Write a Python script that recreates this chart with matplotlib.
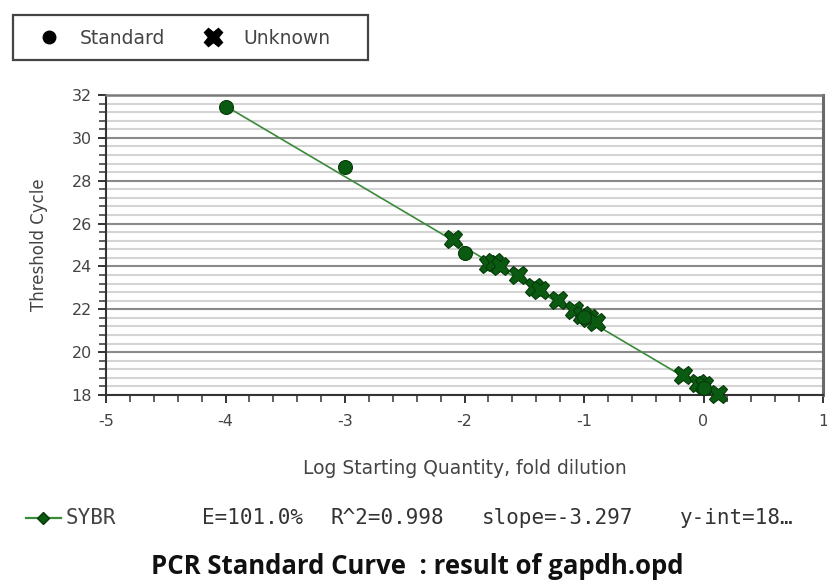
import matplotlib
matplotlib.use("Agg")
import matplotlib.pyplot as plt
from matplotlib.lines import Line2D
from matplotlib.patches import Rectangle
from matplotlib.ticker import MultipleLocator
import numpy as np

plt.rcParams["axes.unicode_minus"] = False

# ---- data ----
std_x = [-4.0, -3.0, -2.0, -1.0, 0.0]
std_y = [31.45, 28.65, 24.65, 21.65, 18.35]

unk_x = [-2.1, -1.8, -1.75, -1.7, -1.55, -1.42, -1.37, -1.22, -1.08, -1.02, -0.96, -0.9, -0.17, -0.05, 0.0, 0.12]
unk_y = [25.3, 24.1, 24.2, 24.0, 23.6, 23.05, 22.9, 22.45, 21.95, 21.75, 21.6, 21.4, 18.95, 18.55, 18.45, 18.05]

fit_slope = -3.297
fit_intercept = 18.3
fit_x = [-4.0, 0.13]

x_ticks = [-5, -4, -3, -2, -1, 0, 1]
y_ticks = [18, 20, 22, 24, 26, 28, 30, 32]

legend_labels = ["Standard", "Unknown"]
xlabel = "Log Starting Quantity, fold dilution"
ylabel = "Threshold Cycle"
series_name = "SYBR"
stats_words = ["E=101.0%", "R^2=0.998", "slope=-3.297", "y-int=18\u2026"]
title = "PCR Standard Curve  : result of gapdh.opd"

marker_face = "#0b5a12"
marker_edge = "#053a08"
line_col = "#3a8a3a"
txt_col = "#444444"

fig = plt.figure(figsize=(8.27, 5.84), dpi=100)
ax = fig.add_axes([106/827, 1-395/584, (823-106)/827, (395-95)/584])

ax.set_xlim(-5, 1)
ax.set_ylim(18, 32)
ax.set_xticks(x_ticks)
ax.set_yticks(y_ticks)
ax.xaxis.set_minor_locator(MultipleLocator(0.2))
ax.yaxis.set_minor_locator(MultipleLocator(0.4))

ax.grid(axis="y", which="major", color="#8a8a8a", lw=1.5, zorder=0)
ax.grid(axis="y", which="minor", color="#d4d4d4", lw=1.5, zorder=0)
ax.set_axisbelow(True)

for s in ["left", "bottom"]:
    ax.spines[s].set_color("#333333")
    ax.spines[s].set_linewidth(1.5)
ax.spines["top"].set_color("#7a7a7a")
ax.spines["top"].set_linewidth(1.8)
ax.spines["right"].set_color("#6a6a6a")
ax.spines["right"].set_linewidth(2.2)

ax.tick_params(which="major", direction="out", length=6, width=1.4, color="#333333",
               labelsize=11.5, labelcolor=txt_col)
ax.tick_params(axis="x", which="major", pad=8)
ax.tick_params(axis="y", which="major", pad=4)
ax.tick_params(which="minor", direction="out", length=5, width=1.2, color="#444444")

fx = np.array(fit_x)
ax.plot(fx, fit_slope * fx + fit_intercept, color=line_col, lw=1.2, zorder=2)

ax.plot(unk_x, unk_y, linestyle="none", marker="X", ms=13, mfc=marker_face,
        mec=marker_edge, mew=0.8, zorder=3, clip_on=False)
ax.plot(std_x, std_y, linestyle="none", marker="o", ms=10, mfc=marker_face,
        mec=marker_edge, mew=0.8, zorder=4)

ax.set_xlabel(xlabel, fontsize=13.5, color=txt_col, labelpad=21)
ax.set_ylabel(ylabel, fontsize=12, color=txt_col, labelpad=17)

# legend (frame drawn as a figure rectangle to match the original box)
fig.add_artist(Rectangle((13/827, 1-60/584), (368-13)/827, 45/584,
                         transform=fig.transFigure, fill=True, facecolor="white",
                         edgecolor="#444444", lw=1.6, zorder=1))
handles = [Line2D([], [], ls="none", marker="o", ms=9, mfc="black", mec="black"),
           Line2D([], [], ls="none", marker="X", ms=13, mfc="black", mec="black")]
leg = fig.legend(handles, legend_labels, loc="center left",
                 bbox_to_anchor=(13/827, 1-38/584), ncol=2, frameon=False,
                 fontsize=13.5, handletextpad=0.3, columnspacing=1.2,
                 borderpad=0.55, handlelength=2.7, borderaxespad=0)
leg.set_zorder(2)
for t in leg.get_texts():
    t.set_color(txt_col)

# series line sample
yl = 1 - 518/584
fig.add_artist(Line2D([26/827, 61/827], [yl, yl], color=line_col, lw=1.6,
                      transform=fig.transFigure))
fig.add_artist(Line2D([43/827], [yl], ls="none", marker="D", ms=6,
                      mfc=marker_face, mec=marker_edge, transform=fig.transFigure))
fig.text(66/827, yl, series_name, fontsize=15, family="DejaVu Sans Mono",
         color=txt_col, va="center", ha="left")
word_x = [202, 330, 482, 680]
for wx, w in zip(word_x, stats_words):
    fig.text(wx/827, yl, w, fontsize=15, family="DejaVu Sans Mono",
             color="#333333", va="center", ha="left")

fig.text(417/827, 1-567/584, title, fontsize=18.5, fontweight="bold",
         family="Open Sans", color="#111111", ha="center", va="center")

fig.savefig("out.png", dpi=100)
